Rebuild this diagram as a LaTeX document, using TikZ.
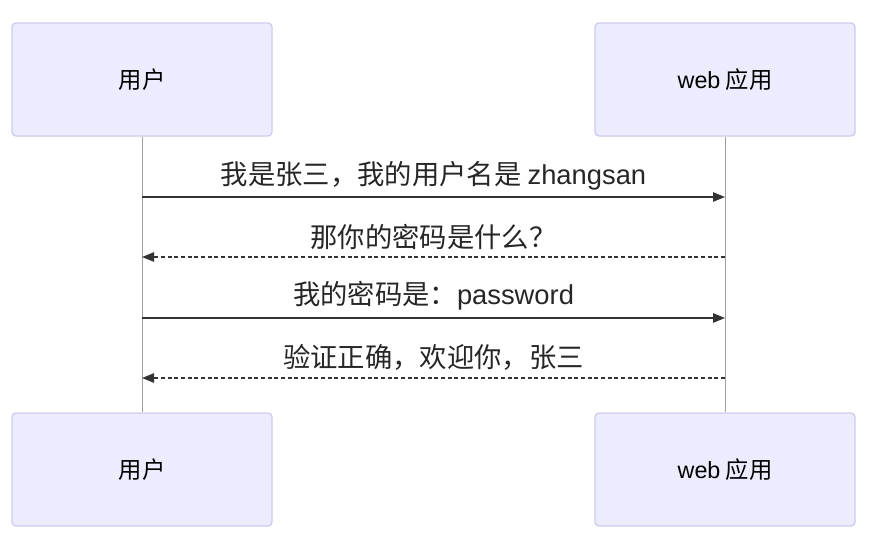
\documentclass[tikz,border=0pt]{standalone}
\usepackage{fontspec}
\setmainfont{Noto Sans CJK SC}
\newfontfamily\latinf{Liberation Sans}
\usetikzlibrary{arrows.meta}
\definecolor{boxfill}{HTML}{ECECFF}
\definecolor{boxline}{HTML}{CFCBEF}
\definecolor{msgline}{HTML}{333333}
\definecolor{lifeline}{HTML}{A0A0A0}
\tikzset{
  actor/.style={draw=boxline, fill=boxfill, line width=1pt, rounded corners=3pt,
    minimum width=260*0.75pt, minimum height=113*0.75pt, inner sep=0pt, font=\fontsize{17.5}{19}\selectfont},
  life/.style={draw=lifeline, line width=0.6pt},
  msg/.style={draw=msgline, line width=1.1pt, -{Triangle[length=9pt,width=7pt]}},
  reply/.style={msg, dash pattern=on 3pt off 2pt},
  lbl/.style={font=\fontsize{20.5}{23}\selectfont, text=black!85, inner sep=0pt}
}
\begin{document}
\begin{tikzpicture}[x=0.75pt,y=-0.75pt]
\useasboundingbox (0,0) rectangle (870,546);
\node[actor] (u1) at (142,79.5) {用户};
\node[actor] (w1) at (725,79.5) {{\latinf web} 应用};
\node[actor] (u2) at (142,469.5) {用户};
\node[actor] (w2) at (725,469.5) {{\latinf web} 应用};
\draw[life] (u1.south) -- (u2.north);
\draw[life] (w1.south) -- (w2.north);
\coordinate (a1) at (142,197); \coordinate (b1) at (725,197);
\coordinate (a2) at (142,257); \coordinate (b2) at (725,257);
\coordinate (a3) at (142,318); \coordinate (b3) at (725,318);
\coordinate (a4) at (142,378); \coordinate (b4) at (725,378);
\draw[msg] (a1) -- (b1);
\draw[reply] (b2) -- (a2);
\draw[msg] (a3) -- (b3);
\draw[reply] (b4) -- (a4);
\node[lbl] (t1) at (433.5,176) {我是张三，我的用户名是 {\latinf zhangsan}};
\node[lbl] (t2) at (433.5,237) {那你的密码是什么？};
\node[lbl] (t3) at (433.5,296) {我的密码是：{\latinf password}};
\node[lbl] (t4) at (433.5,357) {验证正确，欢迎你，张三};
\end{tikzpicture}
\end{document}
